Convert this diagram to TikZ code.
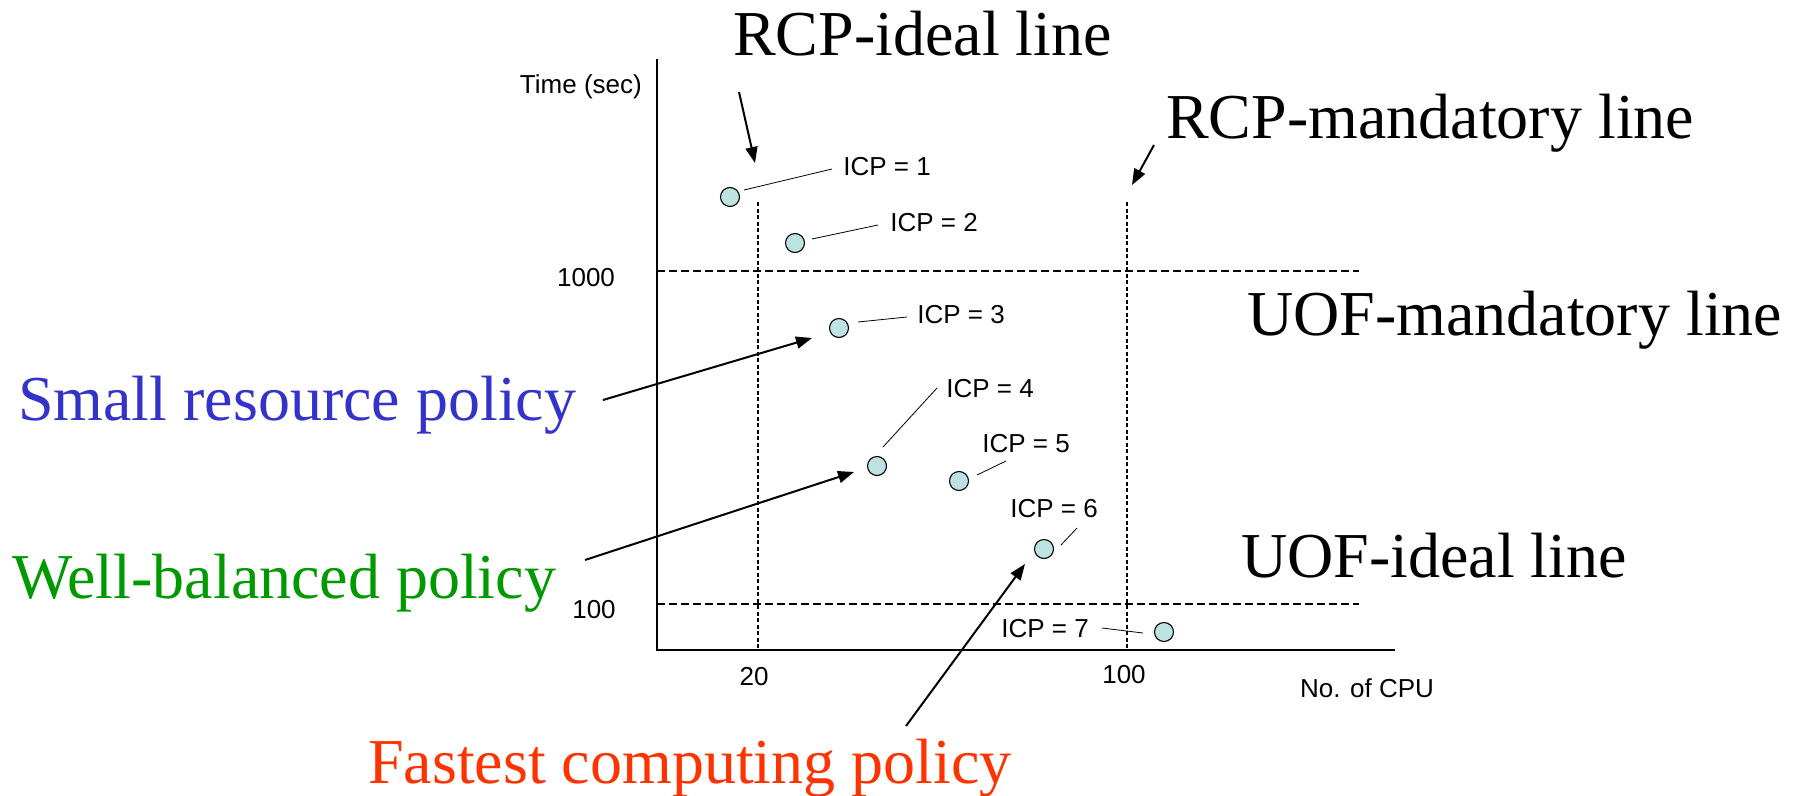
\documentclass[tikz,border=0pt]{standalone}
\usepackage{fontspec}
\setmainfont{Liberation Serif}
\newfontfamily\labelsans{Liberation Sans}
\usetikzlibrary{arrows.meta}
\definecolor{pblue}{HTML}{3333CC}
\definecolor{pgreen}{HTML}{009900}
\definecolor{pred}{HTML}{FF3300}
\definecolor{dotfill}{HTML}{BDE2E2}

\begin{document}
\begin{tikzpicture}[x=1pt,y=-1pt,
  big/.style={font=\fontsize{64}{64}\selectfont, inner sep=0pt, anchor=base west},
  small/.style={font=\labelsans\fontsize{26}{26}\selectfont, inner sep=0pt},
  sample/.style={circle, draw=black, line width=1.1pt, fill=dotfill, minimum size=19pt, inner sep=0pt},
  axisline/.style={line width=1.3pt},
  hguide/.style={line width=1.6pt, dash pattern=on 8pt off 4pt},
  vguide/.style={line width=1.8pt, dash pattern=on 4pt off 2.5pt},
  leader/.style={line width=0.8pt},
  pointer/.style={line width=2pt, -{Triangle[length=16pt,width=12pt]}},
]
\useasboundingbox (0,0) rectangle (1795,795);

% axes
\coordinate (origin) at (657,650);
\coordinate (ytop) at (657,59);
\coordinate (xend) at (1395,650);

% threshold guides
\coordinate (h1000a) at (657,271);  \coordinate (h1000b) at (1359,271);
\coordinate (h100a)  at (657,604);  \coordinate (h100b)  at (1359,604);
\coordinate (v20a)   at (758,202);  \coordinate (v20b)   at (758,650);
\coordinate (v100a)  at (1127,202); \coordinate (v100b)  at (1127,650);

\draw[hguide] (h1000a) -- (h1000b);
\draw[hguide] (h100a) -- (h100b);
\draw[vguide] (v20a) -- (v20b);
\draw[vguide] (v100a) -- (v100b);
\draw[axisline] (ytop) -- (origin) -- (xend);

% axis labels and ticks
\node[small, anchor=east] (ylab) at (642,87) {Time (sec)};
\node[small] (t1000) at (586,278) {1000};
\node[small] (t100y) at (594,610) {100};
\node[small] (t20)   at (754,677) {20};
\node[small] (t100x) at (1124,675) {100};
\node[small] (xlab)  at (1367,688) {No. of CPU};

% measured configurations
\node[sample] (c1) at (730,197) {};
\node[sample] (c2) at (795,243) {};
\node[sample] (c3) at (839,328) {};
\node[sample] (c4) at (877,466) {};
\node[sample] (c5) at (959,481) {};
\node[sample] (c6) at (1044,549) {};
\node[sample] (c7) at (1164,632) {};

\node[small] (i1) at (887,167) {ICP = 1};
\node[small] (i2) at (934,223) {ICP = 2};
\node[small] (i3) at (961,315) {ICP = 3};
\node[small] (i4) at (990,389) {ICP = 4};
\node[small] (i5) at (1026,444) {ICP = 5};
\node[small] (i6) at (1054,509) {ICP = 6};
\node[small] (i7) at (1045,629) {ICP = 7};

% leader lines between points and their labels
\coordinate (l1a) at (744,190);  \coordinate (l1b) at (832,169);
\coordinate (l2a) at (812,239);  \coordinate (l2b) at (878,225);
\coordinate (l3a) at (858,322);  \coordinate (l3b) at (907,317);
\coordinate (l4a) at (883,447);  \coordinate (l4b) at (937,388);
\coordinate (l5a) at (977,475);  \coordinate (l5b) at (1006,461);
\coordinate (l6a) at (1061,545); \coordinate (l6b) at (1077,528);
\coordinate (l7a) at (1143,633); \coordinate (l7b) at (1102,628);
\foreach \k in {1,...,7} \draw[leader] (l\k a) -- (l\k b);

% line names
\node[big] (rcpideal) at (733,55)  {RCP-ideal line};
\node[big] (rcpmand)  at (1166,138) {RCP-mandatory line};
\node[big] (uofmand)  at (1247,335) {UOF-mandatory line};
\node[big] (uofideal) at (1241,577) {UOF-ideal line};

% policy names
\node[big, text=pblue]  (small)   at (18,420) {Small resource policy};
\node[big, text=pgreen] (balanced) at (12,598) {Well-balanced policy};
\node[big, text=pred]   (fastest) at (368,783) {Fastest computing policy};

% pointers
\coordinate (p1a) at (739,92);   \coordinate (p1b) at (755,163);
\coordinate (p2a) at (1154,145); \coordinate (p2b) at (1132,185);
\coordinate (p3a) at (603,400);  \coordinate (p3b) at (812,338);
\coordinate (p4a) at (585,560);  \coordinate (p4b) at (854,472);
\coordinate (p5a) at (906,726);  \coordinate (p5b) at (1025,564);
\foreach \k in {1,...,5} \draw[pointer] (p\k a) -- (p\k b);
\end{tikzpicture}
\end{document}
